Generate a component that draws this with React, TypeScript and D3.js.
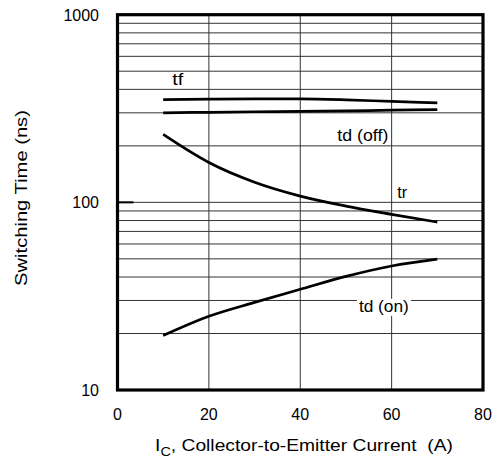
import React, { useRef, useEffect } from 'react';
import * as d3 from 'd3';

const current = [10, 20, 30, 40, 50, 60, 70];
const tf = [353, 355, 356, 356, 352, 345, 339];
const tdOff = [300, 302, 304, 305, 307, 310, 312];
const tr = [230, 163, 128, 108, 95.5, 86.3, 78.5];
const tdOn = [19.5, 24.7, 29.3, 34.4, 40.3, 45.8, 49.8];

const xTicks = [0, 20, 40, 60, 80];
const yTicks = [10, 100, 1000];

// curve labels: position in data units, width of the printed word
const labels = [
  { text: 'tf', x: 13.2, y: 422, w: 11, bg: false },
  { text: 'td (off)', x: 53.7, y: 212, w: 51, bg: false },
  { text: 'tr', x: 62.3, y: 105.5, w: 10, bg: false },
  { text: 'td (on)', x: 58.3, y: 26.1, w: 50, bg: true },
];

const App = () => {
  const svgRef = useRef<SVGSVGElement>(null);

  useEffect(() => {
    const svg = d3.select(svgRef.current);
    svg.selectAll('*').remove();

    const x = d3.scaleLinear().domain([0, 80]).range([117.5, 483]);
    const y = d3.scaleLog().domain([10, 1000]).range([390, 14.7]);
    const font = 'Liberation Sans, Arial, sans-serif';

    // text stretched horizontally to a given width, centred on cx
    const stretched = (parent: any, cx: number, cy: number, width: number, rotate = 0) => {
      const g = parent.append('g').attr('transform', `translate(${cx},${cy}) rotate(${rotate})`);
      const inner = g.append('g');
      const t = inner.append('text')
        .attr('text-anchor', 'middle')
        .attr('font-family', font).attr('font-size', 16);
      return {
        t,
        fit: () => {
          const len = (t.node() as SVGTextElement).getComputedTextLength();
          inner.attr('transform', `scale(${width / len},1)`);
          return g;
        },
      };
    };

    // grid
    const minor: number[] = [];
    [10, 100].forEach(d => {
      for (let k = 2; k <= 9; k++) minor.push(d * k);
    });
    svg.append('g')
      .selectAll('line')
      .data([...minor, 100])
      .join('line')
      .attr('x1', x(0)).attr('x2', x(80))
      .attr('y1', d => y(d)).attr('y2', d => y(d))
      .attr('stroke', '#333').attr('stroke-width', 1);
    svg.append('g')
      .selectAll('line')
      .data([20, 40, 60])
      .join('line')
      .attr('x1', d => x(d)).attr('x2', d => x(d))
      .attr('y1', y(10)).attr('y2', y(1000))
      .attr('stroke', '#333').attr('stroke-width', 1);
    // inner major tick at 100
    svg.append('line')
      .attr('x1', x(0)).attr('x2', x(0) + 16)
      .attr('y1', y(100)).attr('y2', y(100))
      .attr('stroke', '#000').attr('stroke-width', 2);

    // curves
    const line = d3.line<number>()
      .x((_, i) => x(current[i]))
      .y(d => y(d))
      .curve(d3.curveMonotoneX);
    [tf, tdOff, tr, tdOn].forEach(s => {
      svg.append('path')
        .attr('d', line(s))
        .attr('fill', 'none')
        .attr('stroke', '#000')
        .attr('stroke-width', 2.7);
    });

    // labels
    labels.forEach(l => {
      const s = stretched(svg, x(l.x), y(l.y), l.w);
      s.t.text(l.text);
      const g = s.fit();
      if (l.bg) {
        g.insert('rect', 'g')
          .attr('x', -l.w / 2 - 2).attr('y', -13)
          .attr('width', l.w + 4).attr('height', 17)
          .attr('fill', '#fff');
      }
    });

    // frame
    svg.append('rect')
      .attr('x', x(0)).attr('y', y(1000))
      .attr('width', x(80) - x(0)).attr('height', y(10) - y(1000))
      .attr('fill', 'none').attr('stroke', '#000').attr('stroke-width', 3.2);

    // tick labels
    svg.append('g')
      .selectAll('text')
      .data(xTicks)
      .join('text')
      .attr('x', d => x(d)).attr('y', 420)
      .attr('text-anchor', 'middle')
      .attr('font-family', font).attr('font-size', 16)
      .text(d => d);
    svg.append('g')
      .selectAll('text')
      .data(yTicks)
      .join('text')
      .attr('x', 99).attr('y', d => y(d) + 6)
      .attr('text-anchor', 'end')
      .attr('font-family', font).attr('font-size', 16)
      .text(d => d);

    // axis titles
    const yt = stretched(svg, 26.5, 198, 176, -90);
    yt.t.text('Switching Time (ns)');
    yt.fit();

    const xt = stretched(svg, 304, 451, 298);
    xt.t.append('tspan').text('I');
    xt.t.append('tspan').attr('dy', 5).attr('font-size', 12).text('C');
    xt.t.append('tspan').attr('dy', -5).text(', Collector-to-Emitter Current\u00a0 (A)');
    xt.fit();
  }, []);

  return (
    <svg ref={svgRef} width={498} height={461}
      style={{ position: 'absolute', left: 0, top: 0, background: '#fff' }} />
  );
};

export default App;
